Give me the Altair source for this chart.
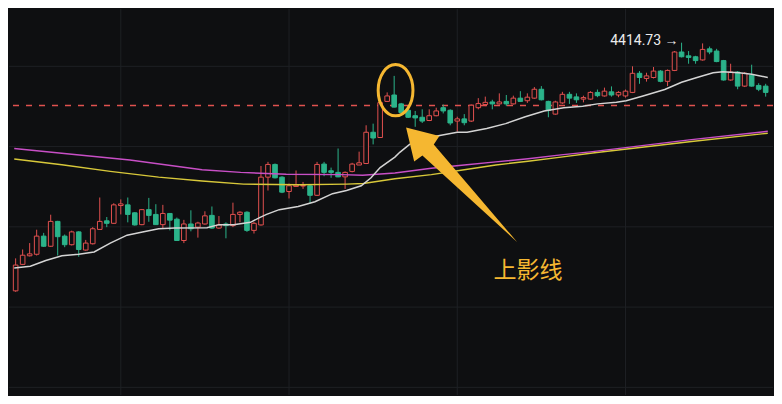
import altair as alt
import pandas as pd

# ---------------- data ----------------
opens = [4155, 4182.7, 4191.7, 4193.3, 4212.3, 4201.7, 4227.7, 4212.3, 4203.3, 4216.7,
         4197.7, 4204.3, 4219.3, 4228.3, 4225.7, 4244.3, 4245, 4236.7, 4224.3, 4240,
         4235, 4224.3, 4236, 4230, 4207.7, 4225, 4221.7, 4225, 4234, 4220.7,
         4225, 4223.3, 4235, 4237.3, 4218.3, 4224, 4274, 4287.3, 4274, 4259,
         4264.3, 4264.7, 4265, 4255, 4287.7, 4280.7, 4279, 4274.3, 4280, 4286.7,
         4288.3, 4321, 4315.5, 4353.3, 4360, 4350.7, 4344, 4338.3, 4336.7, 4333.3,
         4338.3, 4346.7, 4344, 4332.7, 4335, 4332.7, 4346.7, 4350, 4352.7, 4350.7,
         4353.3, 4350.7, 4356.7, 4354, 4356.7, 4366, 4353.3, 4340, 4351.7, 4360.7,
         4358, 4355.7, 4355.7, 4362.7, 4359, 4363.3, 4360, 4359, 4362.7, 4382.7,
         4377.3, 4378.3, 4385, 4374.3, 4385.7, 4405, 4401, 4400, 4396.7, 4408.3,
         4406, 4396, 4375.7, 4384, 4369.3, 4380.7, 4370, 4369.3]
highs = [4189, 4198.3, 4205, 4219, 4215.7, 4234.7, 4228.3, 4214, 4218, 4217.5,
         4208.3, 4221.7, 4252.7, 4232.3, 4246.7, 4250.7, 4252.7, 4237.3, 4240.7, 4252.3,
         4245.7, 4245, 4236.5, 4231.7, 4229.3, 4239.3, 4227.3, 4238.3, 4243.3, 4233.3,
         4226.7, 4247.3, 4238.3, 4238.3, 4227.3, 4285.7, 4290, 4288.3, 4275, 4267.3,
         4281, 4269, 4266, 4290, 4290, 4284, 4304, 4280, 4289, 4300.7,
         4328.3, 4330, 4354, 4362.7, 4380, 4351.7, 4345, 4343.3, 4345, 4345,
         4346.7, 4350, 4345, 4337.3, 4340, 4350, 4356.7, 4358.3, 4355, 4361.7,
         4360, 4359.3, 4364, 4361.7, 4368.3, 4369.3, 4354, 4354, 4363.3, 4363.3,
         4361.7, 4359.3, 4364, 4365.7, 4367.7, 4369, 4364, 4365.7, 4390, 4385,
         4383.3, 4389.3, 4386, 4386.7, 4406, 4414.73, 4406, 4401, 4414, 4410.7,
         4408.3, 4396.7, 4392.7, 4385, 4384, 4391.7, 4372.3, 4371.7]
lows = [4154, 4182, 4191, 4192, 4201, 4201, 4192, 4200.7, 4202.5, 4190.7,
        4197, 4203.5, 4219, 4221.7, 4225.3, 4235, 4226.7, 4223.3, 4223.7, 4227.3,
        4224, 4220, 4218.3, 4207.3, 4205, 4217.3, 4210.7, 4224.3, 4220, 4220,
        4210, 4221.7, 4226.7, 4216.7, 4215, 4223.3, 4260, 4272.7, 4257.3, 4251.7,
        4264, 4261.7, 4246.7, 4254.3, 4275, 4273.3, 4274, 4261.7, 4279, 4286.7,
        4287.7, 4308.3, 4315, 4352.7, 4347, 4338.3, 4336, 4326.7, 4330.7, 4332.7,
        4337.7, 4340.7, 4328.3, 4321.7, 4328.3, 4331.7, 4345, 4348.3, 4345, 4350,
        4348.3, 4350, 4352.7, 4351.7, 4356, 4354.3, 4336.7, 4339.3, 4350.7, 4350.7,
        4351.7, 4352.3, 4355, 4357.7, 4358.3, 4358.3, 4357.7, 4357.3, 4362, 4371.7,
        4374, 4377.3, 4373.3, 4369.3, 4385, 4399.3, 4392.7, 4392.7, 4396, 4402.7,
        4394.3, 4375, 4375, 4366, 4368.3, 4368.7, 4364, 4358.3]
closes = [4182, 4192.3, 4193.7, 4212.3, 4201.7, 4227.7, 4211.7, 4203.3, 4216.7, 4198.3,
          4205, 4220, 4227.7, 4225.7, 4245, 4246, 4235, 4224, 4240, 4234,
          4224.3, 4236, 4229, 4207.7, 4225, 4220, 4226, 4233.5, 4220.7, 4224,
          4223.3, 4235, 4237.3, 4218.3, 4225.7, 4274, 4287.3, 4273.3, 4258.3, 4265,
          4265.7, 4265.3, 4255, 4287.3, 4279, 4279, 4274.3, 4279, 4287.7, 4289,
          4321, 4315, 4352, 4359, 4347.3, 4341.7, 4336.7, 4336, 4332.7, 4338.3,
          4343.3, 4343.3, 4330.7, 4335, 4331, 4349.3, 4351, 4352.3, 4350.7, 4352.7,
          4350.7, 4356.7, 4353.3, 4357.7, 4366, 4355, 4344, 4352.7, 4360.7, 4356.7,
          4355, 4357.3, 4362.7, 4359.3, 4364, 4360, 4362.7, 4364, 4382.7, 4378.3,
          4380, 4385, 4374.3, 4385.7, 4405, 4400, 4399.3, 4396, 4407.7, 4405,
          4395, 4375.7, 4384, 4369.3, 4382.7, 4369.3, 4366, 4362.7]

# moving averages (sampled along the bar index)
ma_w_x = [-0.2, 2.1, 4.3, 6.6, 9.0, 11.2, 13.5, 15.9, 18.1, 20.4, 22.7, 27.3, 29.0, 31.1,
          33.5, 34.8, 35.8, 37.6, 40.3, 42.7, 45.2, 47.2, 49.3, 50.7, 52.0, 54.1, 54.8,
          56.2, 57.5, 60.3, 63.0, 64.4, 67.2, 69.9, 72.7, 75.4, 78.2, 80.9, 83.0, 85.7,
          87.1, 89.5, 92.6, 95.0, 97.2, 99.5, 100.9, 103.2, 105.0, 107.3]
ma_w_y = [4179, 4180.7, 4186.7, 4191.7, 4193.3, 4195.7, 4205, 4213.3, 4216.7, 4220, 4220.7,
          4221, 4224.3, 4224.3, 4226.7, 4231.7, 4235, 4240, 4243.3, 4248.3, 4256.7, 4260,
          4265, 4273.3, 4284, 4295, 4300, 4308.3, 4313.3, 4317.3, 4321, 4321, 4325, 4330,
          4337.3, 4343.3, 4346.7, 4348.3, 4350.7, 4352.3, 4354, 4359, 4365.7, 4373.3,
          4378.3, 4383.3, 4384.3, 4383.3, 4381.7, 4378.3]
ma_m_x = [-0.2, 8.0, 16.3, 26.6, 32.1, 38.6, 46.5, 49.5, 54.1, 59.3, 64.0, 68.5, 73.1,
          77.8, 82.3, 96.1, 107.3]
ma_m_y = [4304, 4298, 4292, 4281.7, 4279, 4277, 4276.7, 4276, 4278.3, 4283.3, 4286.7,
          4290, 4293.3, 4297.3, 4300.7, 4313, 4322]
ma_y_x = [-0.2, 6.6, 13.5, 20.4, 26.6, 32.5, 40.3, 47.2, 49.6, 54.1, 59.3, 64.0, 68.5,
          73.1, 77.8, 82.3, 96.1, 107.3]
ma_y_y = [4293, 4287, 4280, 4274, 4270, 4266.7, 4266, 4266.7, 4267.3, 4272.3, 4276.7,
          4281.7, 4286.7, 4290.7, 4295, 4299.3, 4311, 4320]

ref_level = 4349
grid_prices = [4390, 4306, 4222, 4138, 4054]
grid_bars = [15, 39, 63, 87]
note_text = "上影线"
note_bar, note_price = 73.1, 4176
circle_bar, circle_price = 54.2, 4365
arrow_bar, arrow_price = 55.7, 4326

# ---------------- styles ----------------
BG = "#0e0f11"
UP = "#e0504f"
DOWN = "#2bb38a"
ORANGE = "#f5b731"
W, H = 766, 388

bars = pd.DataFrame({"i": range(len(opens)), "open": opens, "high": highs,
                     "low": lows, "close": closes})
bars["dir"] = ["up" if c >= o else "down" for o, c in zip(opens, closes)]

xs = alt.Scale(domain=[-0.234, 107.33], nice=False, zero=False)
ys = alt.Scale(domain=[4046, 4450], nice=False, zero=False)
X = lambda f: alt.X(f, type="quantitative", scale=xs, axis=None)
Y = lambda f: alt.Y(f, type="quantitative", scale=ys, axis=None)

hgrid = alt.Chart(pd.DataFrame({"p": grid_prices})).mark_rule(
    color="#1e2024", strokeWidth=1).encode(y=Y("p"))
vgrid = alt.Chart(pd.DataFrame({"b": grid_bars})).mark_rule(
    color="#1e2024", strokeWidth=1).encode(x=X("b"))
dashed = alt.Chart(pd.DataFrame({"p": [ref_level]})).mark_rule(
    stroke="#e0524f", strokeWidth=1.3, strokeDash=[6, 7], opacity=1).encode(y=Y("p"))

wicks = alt.Chart(bars).mark_rule(strokeWidth=1).encode(
    x=X("i"), y=Y("low"), y2="high",
    color=alt.Color("dir:N", scale=alt.Scale(domain=["up", "down"], range=[UP, DOWN]), legend=None))
bodies = alt.Chart(bars).mark_bar(size=4.6, strokeWidth=1).encode(
    x=X("i"), y=Y("open"), y2="close",
    fill=alt.Fill("dir:N", scale=alt.Scale(domain=["up", "down"], range=[BG, DOWN]), legend=None),
    stroke=alt.Stroke("dir:N", scale=alt.Scale(domain=["up", "down"], range=[UP, DOWN]), legend=None))

def ma(xv, yv, col, w):
    return alt.Chart(pd.DataFrame({"x": xv, "y": yv})).mark_line(
        color=col, strokeWidth=w).encode(x=X("x"), y=Y("y"))

ma_white = ma(ma_w_x, ma_w_y, "#d4d4d4", 1.5)
ma_mag = ma(ma_m_x, ma_m_y, "#c84fc6", 1.4)
ma_yel = ma(ma_y_x, ma_y_y, "#d8c83a", 1.4)

hi_i = int(bars["high"].idxmax())
hi_df = pd.DataFrame({"i": [hi_i], "p": [bars["high"].max()],
                      "t": [f"{bars['high'].max():.2f} →"]})
hi_label = alt.Chart(hi_df).mark_text(
    align="right", baseline="middle", dx=-3, dy=-2, fontSize=14,
    font="Roboto", color="#ececec").encode(x=X("i"), y=Y("p"), text="t:N")

ellipse = alt.Chart(pd.DataFrame({"b": [circle_bar], "p": [circle_price]})).mark_point(
    shape="M -0.58 0 A 0.58 0.855 0 1 0 0.58 0 A 0.58 0.855 0 1 0 -0.58 0 Z",
    size=3600, filled=False, stroke=ORANGE, strokeWidth=3, opacity=1).encode(
    x=X("b"), y=Y("p"))

arrow = alt.Chart(pd.DataFrame({"b": [arrow_bar], "p": [arrow_price]})).mark_point(
    shape="M 0 0 L 0.333 0.084 L 0.277 0.170 L 1.110 1.145 L 0.163 0.281 L 0.081 0.339 Z",
    size=40000, filled=True, fill=ORANGE, strokeWidth=0, opacity=1).encode(
    x=X("b"), y=Y("p"))

note = alt.Chart(pd.DataFrame({"b": [note_bar], "p": [note_price], "t": [note_text]})).mark_text(
    align="center", baseline="middle", fontSize=23, font="Noto Sans CJK SC",
    color=ORANGE).encode(x=X("b"), y=Y("p"), text="t:N")

chart = alt.layer(hgrid, vgrid, dashed, wicks, bodies, ma_yel, ma_mag, ma_white,
                  hi_label, ellipse, arrow, note).properties(
    width=W, height=H, background=BG, padding=0,
    autosize=alt.AutoSizeParams(type="fit", contains="padding")
).configure_view(stroke=None)

chart.save("out.html", embed_options={"renderer": "svg", "actions": False})
